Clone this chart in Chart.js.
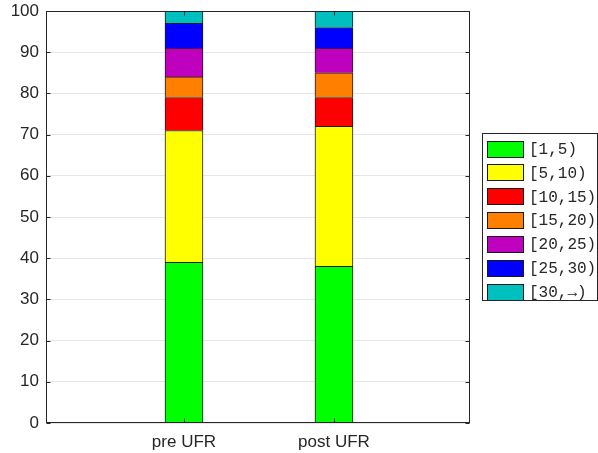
<!DOCTYPE html>
<html>
<head>
<meta charset="utf-8">
<script src="https://cdn.jsdelivr.net/npm/chart.js@4"></script>
<style>
  html, body { margin: 0; padding: 0; background: #fff; }
  #wrap { width: 598px; height: 453px; }
</style>
</head>
<body>
<div id="wrap"><canvas id="myChart"></canvas></div>
<script>
const categories = ["pre UFR", "post UFR"];
const binLabels = ["[1,5)", "[5,10)", "[10,15)", "[15,20)", "[20,25)", "[25,30)", "[30,\u2192)"];
const binColors = ["#00ff00", "#ffff00", "#ff0000", "#ff8000", "#bf00bf", "#0000ff", "#00bfbf"];
// one array per bin: [pre UFR, post UFR]
const bin1to5 = [39, 38];
const bin5to10 = [32, 34];
const bin10to15 = [8, 7];
const bin15to20 = [5, 6];
const bin20to25 = [7, 6];
const bin25to30 = [6, 5];
const bin30up = [3, 4];
const yTicks = [0, 10, 20, 30, 40, 50, 60, 70, 80, 90, 100];

const binValues = [bin1to5, bin5to10, bin10to15, bin15to20, bin20to25, bin25to30, bin30up];

// axes box, inward ticks + legend drawn by hand (matlab style)
const boxPlugin = {
    id: "axesBox",
    afterDatasetsDraw: (chart) => {
        const { ctx, chartArea, scales } = chart;
        const l = Math.round(chartArea.left) + 0.5, r = Math.round(chartArea.right) - 0.5;
        const t = Math.round(chartArea.top) + 0.5, b = Math.round(chartArea.bottom) - 0.5;
        ctx.save();
        ctx.strokeStyle = "#262626";
        ctx.lineWidth = 1;
        ctx.strokeRect(l, t, r - l, b - t);
        ctx.beginPath();
        yTicks.forEach((v) => {
            const y = Math.round(scales.y.getPixelForValue(v)) + 0.5;
            ctx.moveTo(l, y); ctx.lineTo(l + 4, y);
            ctx.moveTo(r, y); ctx.lineTo(r - 4, y);
        });
        categories.forEach((c, j) => {
            const x = Math.round(scales.x.getPixelForValue(j + 1)) + 0.5;
            ctx.moveTo(x, b); ctx.lineTo(x, b - 4);
            ctx.moveTo(x, t); ctx.lineTo(x, t + 4);
        });
        ctx.stroke();
        ctx.restore();
    },
    afterDraw: (chart) => {
        const { ctx } = chart;
        const left = 482, top = 133, w = 115, rowH = 23.9;
        ctx.save();
        ctx.fillStyle = "#fff";
        ctx.fillRect(left, top, w, rowH * binLabels.length);
        ctx.font = "16px 'Liberation Mono'";
        ctx.textBaseline = "middle";
        binLabels.forEach((lab, i) => {
            const cy = top + 15.5 + i * rowH;
            ctx.fillStyle = binColors[i];
            ctx.fillRect(487, Math.round(cy - 8), 36, 16);
            ctx.strokeStyle = "#1a1a1a";
            ctx.strokeRect(487.5, Math.round(cy - 8) + 0.5, 36, 16);
            ctx.fillStyle = "#262626";
            ctx.fillText(lab, 529, cy + 1);
        });
        ctx.strokeStyle = "#262626";
        ctx.strokeRect(left + 0.5, top + 0.5, w, Math.round(rowH * binLabels.length));
        ctx.restore();
    },
};

const datasets = binValues.map((vals, i) => ({
    label: binLabels[i],
    data: categories.map((c, j) => ({ x: j + 1, y: vals[j] })),
    backgroundColor: binColors[i],
    borderColor: "#1a1a1a",
    borderWidth: 1,
    barThickness: 38,
}));

new Chart(document.querySelector("#myChart"), {
    type: "bar",
    data: { datasets: datasets },
    options: {
        responsive: true,
        maintainAspectRatio: false,
        animation: false,
        layout: { padding: { top: 11, right: 128, bottom: 0, left: 0 } },
        plugins: {
            tooltip: { enabled: false },
            legend: { display: false },
        },
        scales: {
            x: {
                type: "linear",
                stacked: true,
                offset: false,
                min: 0.08,
                max: 2.907,
                afterBuildTicks: (scale) => {
                    scale.ticks = categories.map((c, j) => ({ value: j + 1 }));
                },
                afterFit: (scale) => {
                    scale.height = 30;
                    scale.paddingLeft = 0;
                    scale.paddingRight = 0;
                },
                ticks: {
                    color: "#262626",
                    font: { family: "Liberation Sans", size: 17 },
                    callback: (v) => categories[v - 1],
                    padding: 1,
                },
                grid: { display: false },
                border: { display: false },
            },
            y: {
                stacked: true,
                min: 0,
                max: 100,
                afterBuildTicks: (scale) => {
                    scale.ticks = yTicks.map((v) => ({ value: v }));
                },
                afterFit: (scale) => {
                    scale.width = 46;
                    scale.paddingTop = 0;
                    scale.paddingBottom = 0;
                },
                ticks: {
                    color: "#262626",
                    font: { family: "Liberation Sans", size: 17 },
                    padding: 7,
                },
                grid: { color: "#e6e6e6", drawTicks: false },
                border: { display: false },
            },
        },
    },
    plugins: [boxPlugin],
});
</script>
</body>
</html>
